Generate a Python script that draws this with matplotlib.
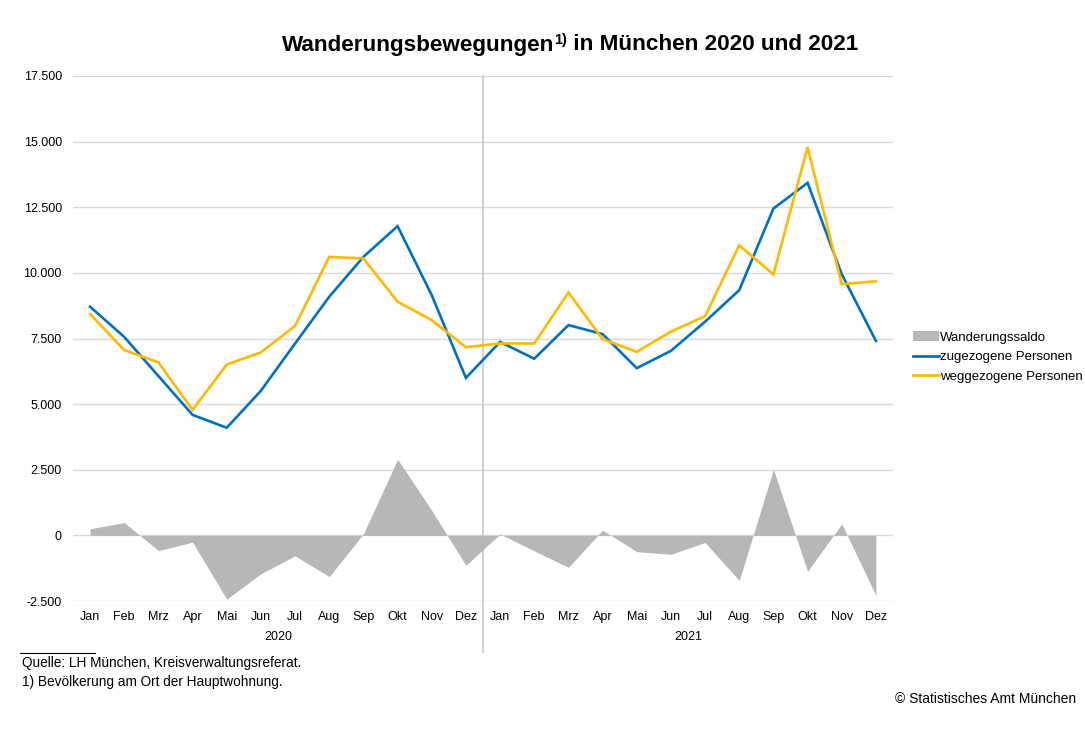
import matplotlib
matplotlib.use("Agg")
import matplotlib.pyplot as plt
from matplotlib.patches import Patch
from matplotlib.lines import Line2D
import matplotlib.transforms as mtransforms
import numpy as np

plt.rcParams['font.family'] = ['Liberation Sans', 'DejaVu Sans']

months = ["Jan", "Feb", "Mrz", "Apr", "Mai", "Jun", "Jul", "Aug", "Sep", "Okt", "Nov", "Dez"]
years = ["2020", "2021"]
zu_2020 = [8710, 7560, 6070, 4590, 4100, 5510, 7310, 9090, 10610, 11780, 9150, 6000]
weg_2020 = [8430, 7060, 6590, 4780, 6510, 6970, 7980, 10610, 10550, 8900, 8200, 7170]
saldo_2020 = [250, 490, -580, -260, -2430, -1460, -780, -1570, 60, 2900, 950, -1140]
zu_2021 = [7370, 6730, 8010, 7670, 6370, 7030, 8140, 9340, 12450, 13430, 9950, 7410]
weg_2021 = [7310, 7310, 9250, 7480, 6990, 7760, 8350, 11050, 9940, 14790, 9570, 9680]
saldo_2021 = [50, -590, -1220, 200, -620, -720, -270, -1720, 2520, -1370, 440, -2290]
yticks = [-2500, 0, 2500, 5000, 7500, 10000, 12500, 15000, 17500]

zu = zu_2020 + zu_2021
weg = weg_2020 + weg_2021
saldo = saldo_2020 + saldo_2021
labels = months + months
x = np.arange(len(labels))

W, H = 1085, 732
fig = plt.figure(figsize=(W / 100, H / 100), dpi=100)
ax = fig.add_axes([73 / W, 1 - 601 / H, (893 - 73) / W, (601 - 76) / H])

ax.fill_between(x, 0, saldo, color='#b7b7b7', linewidth=0, zorder=2)
ax.plot(x, zu, color='#0070c0', linewidth=1.9, zorder=3, solid_joinstyle='miter')
ax.plot(x, weg, color='#ffb900', linewidth=1.9, zorder=4, solid_joinstyle='miter')

ax.set_xlim(-0.5, len(labels) - 0.5)
ax.set_ylim(-2500, 17500)
ax.set_yticks(yticks)
ax.set_yticklabels([f"{v:,}".replace(",", ".") for v in yticks])
ax.set_xticks(x)
ax.set_xticklabels(labels)
ax.tick_params(axis='both', length=0, labelsize=9, colors='#000000')
ax.tick_params(axis='y', pad=8)
ax.tick_params(axis='x', pad=7)
ax.grid(axis='y', color='#d9d9d9', linewidth=1.0, zorder=0)
ax.set_axisbelow(True)
for s in ax.spines.values():
    s.set_visible(False)

# year separator and labels
trans = mtransforms.blended_transform_factory(ax.transData, ax.transAxes)
ax.plot([11.5, 11.5], [1.0, -(652 - 601) / (601 - 76)], transform=trans,
        color='#c8c8c8', linewidth=1.2, clip_on=False, zorder=1)
for i, yr in enumerate(years):
    ax.text(i * 12 + 5.5, -(637 - 601) / (601 - 76), yr, transform=trans,
            ha='center', va='center', fontsize=9)

# title with superscript
fig.canvas.draw()
r = fig.canvas.get_renderer()
ty = 1 - 45 / H
t1 = fig.text(0, ty, "Wanderungsbewegungen", fontsize=16.2, fontweight='bold', va='center')
t2 = fig.text(0, ty + 5 / H, "1)", fontsize=10.5, fontweight='bold', va='center')
t3 = fig.text(0, ty, " in München 2020 und 2021", fontsize=16.2, fontweight='bold', va='center')
w1 = t1.get_window_extent(r).width
w2 = t2.get_window_extent(r).width
w3 = t3.get_window_extent(r).width
start = 570 - (w1 + w2 + w3) / 2
t1.set_x(start / W)
t2.set_x((start + w1) / W)
t3.set_x((start + w1 + w2) / W)

# legend
handles = [Patch(facecolor='#b7b7b7', edgecolor='none'),
           Line2D([0], [0], color='#0070c0', linewidth=2.0),
           Line2D([0], [0], color='#ffb900', linewidth=2.0)]
fig.legend(handles, ["Wanderungssaldo", "zugezogene Personen", "weggezogene Personen"],
           loc='center left', bbox_to_anchor=(913 / W, 1 - 357 / H), frameon=False,
           fontsize=9.5, handlelength=1.95, handletextpad=0.1, labelspacing=0.55,
           borderaxespad=0, borderpad=0)

# footnotes
fig.add_artist(Line2D([20 / W, 95 / W], [1 - 653 / H, 1 - 653 / H], color='black', linewidth=0.8))
fig.text(22 / W, 1 - 663 / H, "Quelle: LH München, Kreisverwaltungsreferat.", fontsize=9.8, va='center')
fig.text(22 / W, 1 - 682 / H, "1) Bevölkerung am Ort der Hauptwohnung.", fontsize=9.8, va='center')
fig.text(1076 / W, 1 - 699 / H, "© Statistisches Amt München", fontsize=10, va='center', ha='right')

fig.savefig("out.png", dpi=100)
